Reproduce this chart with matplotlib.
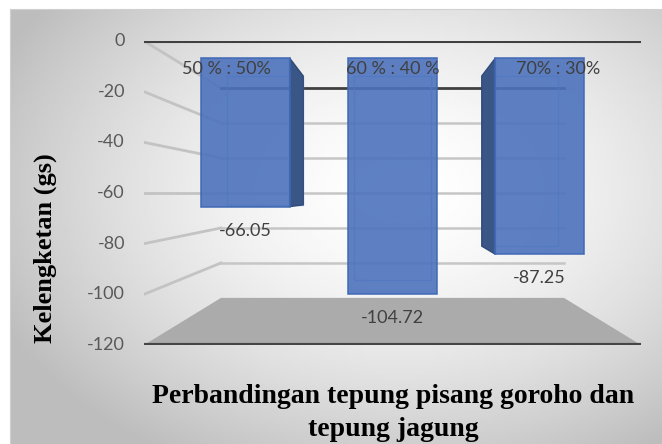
import numpy as np
import matplotlib.pyplot as plt
from matplotlib.patches import Polygon

# data
categories = ['50 % : 50%', '60 % : 40 %', '70% : 30%']
values = [-66.05, -104.72, -87.25]
yticks = [0, -20, -40, -60, -80, -100, -120]

W, H = 662, 444
fig = plt.figure(figsize=(W / 100, H / 100), dpi=100)

# background with a soft radial gradient, like the Excel chart area
bg = fig.add_axes([10 / W, 0, 652 / W, 435 / H])
gx, gy = np.meshgrid(np.linspace(10, 662, 300), np.linspace(9, 444, 200))
r = np.sqrt(((gx - 400) / 400) ** 2 + ((gy - 190) / 280) ** 2)
shade = np.clip(1 - 0.22 * r ** 1.6, 0.74, 1)
bg.imshow(shade, cmap='gray', vmin=0, vmax=1, aspect='auto', extent=[0, 1, 0, 1])
bg.set_xticks([])
bg.set_yticks([])
for sp in bg.spines.values():
    sp.set_color('#d0d0d0')

# front plane of the 3d box: x = category slots, y = value
ax = fig.add_axes([144 / W, 99 / H, 497 / W, 304 / H])
ax.set_xlim(0, 3)
ax.set_ylim(-120, 0)
ax.axis('off')

ncat = len(categories)
cx, cy = ncat / 2, (yticks[0] + yticks[-1]) / 2
back = 0.69            # depth scale of the back wall
s_front, s_back = 0.888, 0.77   # depth of bar faces


def proj(x, y, s):
    # perspective towards the centre of the box
    return (cx + (x - cx) * s, cy + (y - cy) * s)


ymin = yticks[-1]
# floor
floor = [proj(0, ymin, 1), proj(ncat, ymin, 1), proj(ncat, ymin, back), proj(0, ymin, back)]
ax.add_patch(Polygon(floor, closed=True, fc='#ababab', ec='none', zorder=1))
ax.plot(*zip(proj(0, ymin, 1), proj(ncat, ymin, 1)), color='#454545', lw=3, zorder=6,
        solid_capstyle='butt')

# gridlines on the left wall and the back wall
for v in yticks:
    ax.annotate(str(v), (0, v), xytext=(-19, 0), textcoords='offset pixels',
                ha='right', va='center', fontsize=13, color='#595959', family='Lato',
                annotation_clip=False)
    if v == ymin:
        continue
    ax.plot(*zip(proj(0, v, 1), proj(0, v, back)), color='#c3c3c3', lw=2, zorder=2)
    col = '#404040' if v == 0 else '#c6c6c6'
    ax.plot(*zip(proj(0, v, back), proj(ncat, v, back)), color=col, lw=2 if v == 0 else 1.8, zorder=2)

# top front edge at zero
ax.plot(*zip(proj(0, 0, 1), proj(ncat, 0, 1)), color='#404040', lw=2.2, zorder=2)

# bars hanging down from zero
half = 0.3
for i, v in enumerate(values):
    x0, x1 = i + 0.5 - half, i + 0.5 + half
    # back face outline
    bf = [proj(x0, 0, s_back), proj(x1, 0, s_back), proj(x1, v, s_back), proj(x0, v, s_back)]
    ax.add_patch(Polygon(bf, closed=True, fc='none', ec='#6a9be8', lw=1, alpha=0.7, zorder=3))
    # visible side face
    for xe in (x0, x1):
        if (xe == x1 and x1 < cx) or (xe == x0 and x0 > cx):
            side = [proj(xe, 0, s_front), proj(xe, 0, s_back), proj(xe, v, s_back), proj(xe, v, s_front)]
            ax.add_patch(Polygon(side, closed=True, fc='#3a5687', ec='#2f4a78', lw=1, zorder=4))
    ff = [proj(x0, 0, s_front), proj(x1, 0, s_front), proj(x1, v, s_front), proj(x0, v, s_front)]
    ax.add_patch(Polygon(ff, closed=True, fc='#4d73bd', ec='#3f68b4', lw=1.2, alpha=0.9, zorder=5))
    # value label under the bar
    ax.annotate(f'{v:.2f}', proj(i + 0.5, v, s_front), xytext=(0, -24), textcoords='offset pixels',
                ha='center', va='center', fontsize=13, color='#404040', family='Lato',
                annotation_clip=False, zorder=8)
    # category label near the top
    ax.annotate(categories[i], (i + 0.5, 0), xytext=(0, -28), textcoords='offset pixels',
                ha='center', va='center', fontsize=13, color='#404040', family='Lato',
                annotation_clip=False, zorder=8)

fig.text(45 / W, 1 - 248 / H, 'Kelengketan (gs)', rotation=90, ha='center', va='center',
         fontsize=19, fontweight='bold', family='Liberation Serif')
fig.text(393 / W, 1 - 413 / H, 'Perbandingan tepung pisang goroho dan\ntepung jagung',
         ha='center', va='center', fontsize=20, fontweight='bold', family='Liberation Serif',
         linespacing=1.42)

fig.savefig('out.png', dpi=100)
